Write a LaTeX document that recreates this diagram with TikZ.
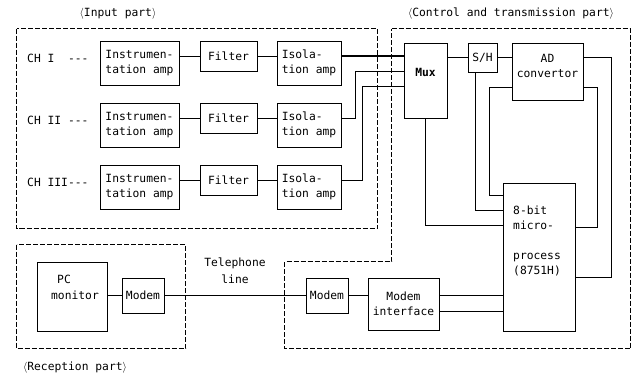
\documentclass[tikz,border=0pt]{standalone}
\usepackage{fontspec}
\setmonofont{DejaVu Sans Mono}
\usetikzlibrary{calc}
\begin{document}
\begin{tikzpicture}[x=1pt,y=-1pt,
  txt/.style={font=\fontsize{11.3}{15}\selectfont\ttfamily, inner sep=0pt},
  blk/.style={draw, line width=0.9pt, inner sep=0pt, txt},
  wire/.style={line width=0.8pt},
  bound/.style={line width=0.9pt, dash pattern=on 5pt off 2pt}]
\useasboundingbox (0,0) rectangle (640,376);

% ---------- boundaries ----------
\draw[bound] (16.5,28.5) rectangle (377.5,228.5);
\draw[bound] (16.5,244.5) rectangle (185.5,348.5);
\draw[bound] (391.5,28.5) -- (630.5,28.5) -- (630.5,348.5) -- (284.5,348.5) -- (284.5,261.5) -- (391.5,261.5) -- cycle;

\node[txt] (lin) at (118,14) {$\langle$Input part$\rangle$};
\node[txt] (lct) at (511,14) {$\langle$Control and transmission part$\rangle$};
\node[txt] (lrc) at (75,368) {$\langle$Reception part$\rangle$};

% ---------- input part ----------
\node[txt, anchor=west] (c1) at (27,58) {CH I\ \ ---};
\node[txt, anchor=west] (c2) at (27,120) {CH II\ ---};
\node[txt, anchor=west] (c3) at (27,182) {CH III---};

\node[blk, minimum width=79pt, minimum height=44pt, align=left] (i1) at (139.5,63) {Instrumen-\\tation amp};
\node[blk, minimum width=57pt, minimum height=30pt] (f1) at (228.5,56) {Filter};
\node[blk, minimum width=64pt, minimum height=44pt, align=left] (a1) at (309,63) {Isola-\\tion amp};

\node[blk, minimum width=79pt, minimum height=44pt, align=left] (i2) at (139.5,125) {Instrumen-\\tation amp};
\node[blk, minimum width=57pt, minimum height=30pt] (f2) at (228.5,118) {Filter};
\node[blk, minimum width=64pt, minimum height=44pt, align=left] (a2) at (309,125) {Isola-\\tion amp};

\node[blk, minimum width=79pt, minimum height=44pt, align=left] (i3) at (139.5,187) {Instrumen-\\tation amp};
\node[blk, minimum width=57pt, minimum height=30pt] (f3) at (228.5,180) {Filter};
\node[blk, minimum width=64pt, minimum height=44pt, align=left] (a3) at (309,187) {Isola-\\tion amp};

\draw[wire] (i1.east |- f1) -- (f1.west);
\draw[wire] (f1.east) -- (a1.west |- f1);
\draw[wire] (i2.east |- f2) -- (f2.west);
\draw[wire] (f2.east) -- (a2.west |- f2);
\draw[wire] (i3.east |- f3) -- (f3.west);
\draw[wire] (f3.east) -- (a3.west |- f3);

% ---------- control and transmission part ----------
\node[blk, minimum width=43pt, minimum height=75pt] (mux) at (425.5,80.5) {};
\node[txt, font=\fontsize{11.3}{15}\selectfont\ttfamily\bfseries] (muxt) at (425.5,72) {Mux};
\node[blk, minimum width=29pt, minimum height=29pt] (sh) at (482.5,57.5) {S/H};
\node[blk, minimum width=71pt, minimum height=57pt] (ad) at (547.5,71.5) {};
\node[txt, align=center] (adt) at (547.5,65.5) {AD\\convertor};
\node[blk, minimum width=72pt, minimum height=148pt] (mp) at (539,257) {};
\node[txt, align=left, anchor=west] (mpt) at (513,241) {8-bit\\micro-\\[15pt]process\\(8751H)};
\node[blk, minimum width=71pt, minimum height=52pt, align=center] (mi) at (403.5,304) {Modem\\interface};
\node[blk, minimum width=42pt, minimum height=35pt] (tm) at (327,295.5) {Modem};

\draw[line width=1.6pt] (a1.east |- f1) -- (f1 -| mux.west);
\draw[wire] (a2.east |- f2) -- ++(14,0) |- ($(mux.north west)+(0,29)$);
\draw[wire] (a3.east |- f3) -- ++(21,0) |- ($(mux.north west)+(0,44)$);

\draw[wire] (mux.east |- sh) -- (sh.west);
\draw[wire] (sh.east) -- (sh.east -| ad.west);
\draw[wire] ($(ad.north east)+(0,15)$) -- ++(28,0) |- ($(mp.north east)+(0,95)$);
\draw[wire] ($(ad.north east)+(0,45)$) -- ++(14,0) |- ($(mp.north east)+(0,45)$);
\draw[wire] ($(ad.north west)+(0,45)$) -- ++(-22,0) |- ($(mp.north west)+(0,13)$);
\draw[wire] ($(sh.south west)+(8,0)$) |- ($(mp.north west)+(0,28)$);
\draw[wire] (mux.south) |- ($(mp.north west)+(0,43)$);

\draw[wire] ($(mi.north east)+(0,18)$) -- ($(mp.north west)+(0,113)$);
\draw[wire] ($(mi.north east)+(0,34)$) -- ($(mp.north west)+(0,129)$);
\draw[wire] (tm.east) -- (mi.west |- tm);

% ---------- reception part ----------
\node[blk, minimum width=70pt, minimum height=69pt] (pc) at (72,296.5) {};
\node[txt] (pct) at (64,279) {PC};
\node[txt] (mont) at (75,295) {monitor};
\node[blk, minimum width=42pt, minimum height=35pt] (rm) at (143,295.5) {Modem};
\draw[wire] (pc.east |- rm) -- (rm.west);

\node[txt, align=center] (tel) at (235,270.5) {Telephone\\[2pt]line};
\draw[wire] (rm.east) -- (tm.west);
\end{tikzpicture}
\end{document}
